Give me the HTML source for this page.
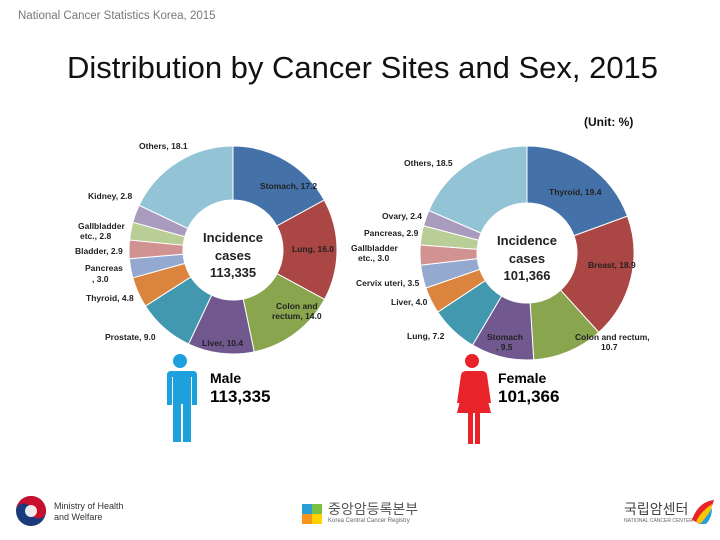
<!DOCTYPE html>
<html><head><meta charset="utf-8"><style>
body{margin:0;width:720px;height:540px;background:#fff;overflow:hidden;font-family:"Liberation Sans",Arial,sans-serif;position:relative}
.a{position:absolute;white-space:nowrap}
</style></head><body>
<div class="a" style="left:18px;top:10px;font-size:11.5px;color:#777">National Cancer Statistics Korea, 2015</div>
<div class="a" style="left:67px;top:50px;font-size:31px;color:#111;letter-spacing:0px">Distribution by Cancer Sites and Sex, 2015</div>
<div class="a" style="left:584px;top:115px;font-size:12px;font-weight:bold;color:#111">(Unit: %)</div>
<svg id="chart" class="a" style="left:0;top:0" width="720" height="540"></svg>
<svg class="a" style="left:160px;top:352px" width="40" height="92">
<circle cx="20" cy="9" r="7" fill="#1ea0dc"/><path d="M7 19h26q4 0 4 4v30h-5v-28h-1v65h-8v-38h-2v38h-8v-65h-1v28h-5v-30q0-4 4-4z" fill="#1ea0dc"/></svg>
<div class="a" style="left:210px;top:370px;font-size:14px;font-weight:bold">Male</div>
<div class="a" style="left:210px;top:387px;font-size:17px;font-weight:bold">113,335</div>
<svg class="a" style="left:452px;top:352px" width="40" height="92">
<circle cx="20" cy="9" r="7" fill="#e8232a"/><path d="M10 19h20q4 0 5 4l4 28h-4l-4-22 8 32h-11v38h-5v-38h-2v38h-5v-38h-11l8-32-4 22h-4l4-28q1-4 5-4z" fill="#e8232a"/></svg>
<div class="a" style="left:498px;top:370px;font-size:14px;font-weight:bold">Female</div>
<div class="a" style="left:498px;top:387px;font-size:17px;font-weight:bold">101,366</div>
<svg class="a" style="left:14px;top:494px" width="34" height="34"><circle cx="17" cy="17" r="15" fill="#1a3b7a"/><path d="M2 17a15 15 0 0 1 30 0a7.5 7.5 0 0 1-15 0a7.5 7.5 0 0 0-15 0z" fill="#c8102e"/><circle cx="17" cy="17" r="6" fill="#fff" opacity="0.9"/></svg>
<div class="a" style="left:54px;top:501px;font-size:9px;line-height:11px;color:#333">Ministry of Health<br>and Welfare</div>
<svg class="a" style="left:300px;top:502px" width="24" height="24"><rect x="2" y="2" width="10" height="10" fill="#2a9fd6"/><rect x="12" y="2" width="10" height="10" fill="#7ac143"/><rect x="2" y="12" width="10" height="10" fill="#f7941d"/><rect x="12" y="12" width="10" height="10" fill="#ffd200"/></svg>
<div class="a" style="left:328px;top:499px;font-size:14px;color:#555;font-family:'Liberation Sans','Noto Sans CJK KR',sans-serif">중앙암등록본부</div>
<div class="a" style="left:328px;top:518px;font-size:6px;color:#666">Korea Central Cancer Registry</div>
<div class="a" style="left:624px;top:499px;font-size:14px;color:#444;font-family:'Liberation Sans','Noto Sans CJK KR',sans-serif">국립암센터</div>
<div class="a" style="left:624px;top:518px;font-size:5px;color:#666">NATIONAL CANCER CENTER</div>
<svg class="a" style="left:690px;top:498px" width="26" height="30"><path d="M2 22q6-18 22-20q-4 14-14 24z" fill="#e8232a"/><path d="M6 24q4-10 16-18q-2 12-10 20z" fill="#f7c600"/><path d="M10 26q6-6 12-16q0 10-6 16z" fill="#2a9fd6"/></svg>
<script>
const maleCats=["Stomach","Lung","Colon and rectum","Liver","Prostate","Thyroid","Pancreas","Bladder","Gallbladder etc.","Kidney","Others"];
const maleVals=[17.2,16.0,14.0,10.4,9.0,4.8,3.0,2.9,2.8,2.8,18.1];
const femaleCats=["Thyroid","Breast","Colon and rectum","Stomach","Lung","Liver","Cervix uteri","Gallbladder etc.","Pancreas","Ovary","Others"];
const femaleVals=[19.4,18.9,10.7,9.5,7.2,4.0,3.5,3.0,2.9,2.4,18.5];
const maleColors=["#4472a8","#aa4643","#89a54e","#71588f","#4198af","#db843d","#93a9cf","#d19392","#b9cd96","#a99bbd","#92c4d6"];
const femaleColors=["#4472a8","#aa4643","#89a54e","#71588f","#4198af","#db843d","#93a9cf","#d19392","#b9cd96","#a99bbd","#92c4d6"];
const svg=document.getElementById('chart');const NS="http://www.w3.org/2000/svg";
function donut(cx,cy,R,r,vals,cats,cols,pref){
 const tot=vals.reduce((a,b)=>a+b,0);let a0=0;
 vals.forEach((v,i)=>{const a1=a0+v/tot*2*Math.PI;
  const p=(a,rad)=>[cx+rad*Math.sin(a),cy-rad*Math.cos(a)];
  const [x1,y1]=p(a0,R),[x2,y2]=p(a1,R),[x3,y3]=p(a1,r),[x4,y4]=p(a0,r);const lg=a1-a0>Math.PI?1:0;
  const el=document.createElementNS(NS,'path');
  el.setAttribute('d',`M${x1} ${y1}A${R} ${R} 0 ${lg} 1 ${x2} ${y2}L${x3} ${y3}A${r} ${r} 0 ${lg} 0 ${x4} ${y4}Z`);
  el.setAttribute('fill',cols[i]);el.setAttribute('stroke','#fff');el.setAttribute('stroke-width','1');
  
  
  svg.appendChild(el);a0=a1;});
}
donut(233,250,104,50,maleVals,maleCats,maleColors,'male');
donut(527,253,107,50,femaleVals,femaleCats,femaleColors,'female');
const labels=[
 [139,149,"Others, 18.1","start"],[88,199,"Kidney, 2.8","start"],[78,229,"Gallbladder","start"],[80,239,"etc., 2.8","start"],[75,254,"Bladder, 2.9","start"],[85,271,"Pancreas","start"],[92,282,", 3.0","start"],[86,301,"Thyroid, 4.8","start"],[105,340,"Prostate, 9.0","start"],
 [260,189,"Stomach, 17.2","start"],[292,252,"Lung, 16.0","start"],[276,309,"Colon and","start"],[272,319,"rectum, 14.0","start"],[202,346,"Liver, 10.4","start"],
 [404,166,"Others, 18.5","start"],[382,219,"Ovary, 2.4","start"],[364,236,"Pancreas, 2.9","start"],[351,251,"Gallbladder","start"],[358,261,"etc., 3.0","start"],[356,286,"Cervix uteri, 3.5","start"],[391,305,"Liver, 4.0","start"],[407,339,"Lung, 7.2","start"],
 [549,195,"Thyroid, 19.4","start"],[588,268,"Breast, 18.9","start"],[487,340,"Stomach","start"],[496,350,", 9.5","start"],[575,340,"Colon and rectum,","start"],[601,350,"10.7","start"]];
labels.forEach(l=>{const t=document.createElementNS(NS,'text');t.setAttribute('x',l[0]);t.setAttribute('y',l[1]);t.setAttribute('font-size','8.5');t.setAttribute('font-weight','bold');t.setAttribute('fill','#222');t.setAttribute('text-anchor',l[3]);t.textContent=l[2];
 
 
 svg.appendChild(t);});
[[233,"113,335"],[527,"101,366"]].forEach((c,k)=>{const cy=k?253:250;
 [["Incidence",-6],["cases",12],[c[1],29]].forEach(s=>{const t=document.createElementNS(NS,'text');t.setAttribute('x',c[0]);t.setAttribute('y',cy+s[1]-2);t.setAttribute('font-size','13');t.setAttribute('font-weight','bold');t.setAttribute('fill','#222');t.setAttribute('text-anchor','middle');t.textContent=s[0];
 
 
 svg.appendChild(t);});});
</script>
</body></html>
